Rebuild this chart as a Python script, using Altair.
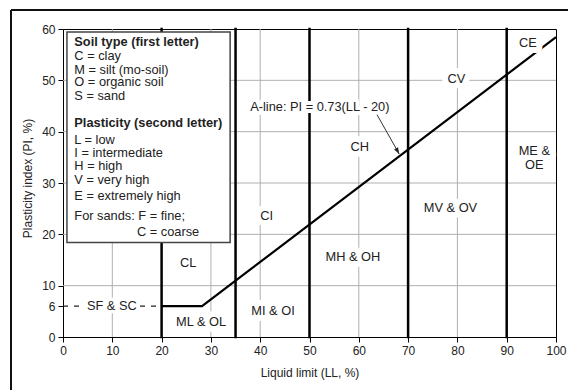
import altair as alt
import pandas as pd

FONT = "Liberation Sans"
TXT = "#222222"

# ---- data ----
grid_ll = [10, 20, 30, 40, 50, 60, 70, 80, 90]
grid_pi = [10, 20, 30, 40, 50]
boundary_ll = [20, 35, 50, 70, 90]

aline_ll = [20, 28.2, 100]
aline_pi = [6, 6, 58.4]

sand_ll = [0, 20]
sand_pi = [6, 6]

x_ticks = [0, 10, 20, 30, 40, 50, 60, 70, 80, 90, 100]
y_ticks = [0, 6, 10, 20, 30, 40, 50, 60]

region_names = ["CE", "CV", "CH", "ME &", "OE", "CI", "MV & OV", "MH & OH", "CL", "MI & OI", "ML & OL"]
region_ll = [94.3, 79.8, 60.2, 95.6, 95.6, 41.3, 78.6, 58.8, 25.4, 42.6, 28.0]
region_pi = [57.3, 50.3, 37.1, 36.3, 33.6, 23.5, 25.1, 15.5, 14.4, 5.0, 2.85]

sand_label = ["SF & SC"]
sand_label_ll = [9.9]
sand_label_pi = [6.0]

aline_label = ["A-line: PI = 0.73(LL - 20)"]
aline_label_ll = [52.1]
aline_label_pi = [44.9]

arrow_ll = [63.7, 68.2]
arrow_pi = [43.3, 35.65]

legend_box_ll = [0.8, 33.9]
legend_box_pi = [18.4, 59.4]

legend_heads = ["Soil type (first letter)", "Plasticity (second letter)"]
legend_heads_pi = [57.5, 41.7]
legend_items = ["C = clay", "M = silt (mo-soil)", "O = organic soil", "S = sand",
                "L = low", "I = intermediate", "H = high", "V = very high",
                "E = extremely high", "For sands: F = fine;", "C = coarse"]
legend_items_pi = [54.8, 52.1, 49.6, 46.9, 38.4, 35.8, 33.4, 30.6, 27.5, 23.5, 20.4]
legend_items_ll = [2.3] * 10 + [15.0]
legend_text_ll = 2.3

# ---- scales / axes ----
xs = alt.Scale(domain=[0, 100], nice=False, zero=False)
ys = alt.Scale(domain=[0, 60], nice=False, zero=False)

common_axis = dict(grid=False, tickSize=5, tickColor="black", domainColor="black",
                   domainWidth=1, tickWidth=1, labelFontSize=12, labelColor=TXT,
                   labelFont=FONT, labelPadding=3, labelFlush=False, labelOverlap=False,
                   titleFont=FONT, titleFontSize=12, titleFontWeight="normal",
                   titleColor=TXT)
x_axis = alt.Axis(values=x_ticks, title="Liquid limit (LL, %)", titlePadding=11, **common_axis)
y_axis = alt.Axis(values=y_ticks, title="Plasticity index (PI, %)", titlePadding=7,
                  titleY=149, **common_axis)


def X(field):
    return alt.X(field, type="quantitative", scale=xs, axis=x_axis)


def Y(field):
    return alt.Y(field, type="quantitative", scale=ys, axis=y_axis)


# gridlines
grid_v = alt.Chart(pd.DataFrame({"LL": grid_ll})).mark_rule(
    color="#b0b0b0", strokeWidth=1).encode(x=X("LL"))
grid_h = alt.Chart(pd.DataFrame({"PI": grid_pi})).mark_rule(
    color="#b0b0b0", strokeWidth=1).encode(y=Y("PI"))

# boundaries
bounds = alt.Chart(pd.DataFrame({"LL": boundary_ll})).mark_rule(
    color="black", strokeWidth=2.5, strokeCap="square").encode(x=X("LL"))

# A-line
aline = alt.Chart(pd.DataFrame({"LL": aline_ll, "PI": aline_pi})).mark_line(
    color="black", strokeWidth=2.2).encode(x=X("LL"), y=Y("PI"))

sand = alt.Chart(pd.DataFrame({"LL": sand_ll, "PI": sand_pi})).mark_line(
    color="#222222", strokeWidth=1.2, strokeDash=[5, 6]).encode(x=X("LL"), y=Y("PI"))

# legend box
box = alt.Chart(pd.DataFrame({"x1": [legend_box_ll[0]], "x2": [legend_box_ll[1]],
                              "y1": [legend_box_pi[0]], "y2": [legend_box_pi[1]]})).mark_rect(
    fill="white", stroke="#444444", strokeWidth=1.5).encode(
    x=X("x1"), x2="x2", y=Y("y1"), y2="y2")

heads = alt.Chart(pd.DataFrame({"t": legend_heads, "LL": [legend_text_ll] * 2,
                                "PI": legend_heads_pi})).mark_text(
    align="left", baseline="middle", font=FONT, fontSize=12.8, fontWeight="bold",
    color=TXT).encode(x=X("LL"), y=Y("PI"), text="t")

items = alt.Chart(pd.DataFrame({"t": legend_items, "LL": legend_items_ll,
                                "PI": legend_items_pi})).mark_text(
    align="left", baseline="middle", font=FONT, fontSize=12.8,
    color=TXT).encode(x=X("LL"), y=Y("PI"), text="t")

# region labels with white halo
reg_df = pd.DataFrame({"t": region_names, "LL": region_ll, "PI": region_pi})
reg_halo = alt.Chart(reg_df).mark_text(
    align="center", baseline="middle", font=FONT, fontSize=12.8, color="white",
    stroke="white", strokeWidth=12, strokeJoin="round").encode(x=X("LL"), y=Y("PI"), text="t")
reg_text = alt.Chart(reg_df).mark_text(
    align="center", baseline="middle", font=FONT, fontSize=12.8,
    color=TXT).encode(x=X("LL"), y=Y("PI"), text="t")

sand_df = pd.DataFrame({"t": sand_label, "LL": sand_label_ll, "PI": sand_label_pi})
sand_halo = alt.Chart(sand_df).mark_text(
    align="center", baseline="middle", font=FONT, fontSize=12.8, color="white",
    stroke="white", strokeWidth=7, strokeJoin="round").encode(x=X("LL"), y=Y("PI"), text="t")
sand_text = alt.Chart(sand_df).mark_text(
    align="center", baseline="middle", font=FONT, fontSize=12.8,
    color=TXT).encode(x=X("LL"), y=Y("PI"), text="t")

al_df = pd.DataFrame({"t": aline_label, "LL": aline_label_ll, "PI": aline_label_pi})
al_halo = alt.Chart(al_df).mark_text(
    align="center", baseline="middle", font=FONT, fontSize=12.8, color="white",
    stroke="white", strokeWidth=8, strokeJoin="round").encode(x=X("LL"), y=Y("PI"), text="t")
al_text = alt.Chart(al_df).mark_text(
    align="center", baseline="middle", font=FONT, fontSize=12.8,
    color=TXT).encode(x=X("LL"), y=Y("PI"), text="t")

arrow_df = pd.DataFrame({"LL": arrow_ll, "PI": arrow_pi})
arrow_line = alt.Chart(arrow_df).mark_line(color="#333333", strokeWidth=1).encode(
    x=X("LL"), y=Y("PI"))
arrow_head = alt.Chart(pd.DataFrame({"LL": [arrow_ll[1]], "PI": [arrow_pi[1]]})).mark_point(
    shape="M0,0L-0.35,1L0.35,1Z", filled=True, color="#222222", opacity=1,
    size=170, angle=151).encode(x=X("LL"), y=Y("PI"))

# outer frame of the figure
one = alt.Data(values=[{"a": 1}])
frame_left = alt.Chart(one).mark_rule(color="#111111", strokeWidth=2).encode(
    x=alt.value(-52), y=alt.value(-19), y2=alt.value(420))
frame_top = alt.Chart(one).mark_rule(color="#111111", strokeWidth=2).encode(
    x=alt.value(-52), x2=alt.value(600), y=alt.value(-19))

chart = alt.layer(
    grid_v, grid_h, bounds, aline, sand, box, heads, items,
    reg_halo, reg_text, sand_halo, sand_text, al_halo, al_text,
    arrow_line, arrow_head, frame_left, frame_top
).properties(
    width=493, height=308,
    autosize=alt.AutoSizeParams(type="none"),
    padding={"left": 63, "top": 29, "right": 12, "bottom": 53},
    background="white",
).configure_view(stroke="black", strokeWidth=1)

chart.save("out.html", embed_options={"renderer": "svg", "actions": False})
